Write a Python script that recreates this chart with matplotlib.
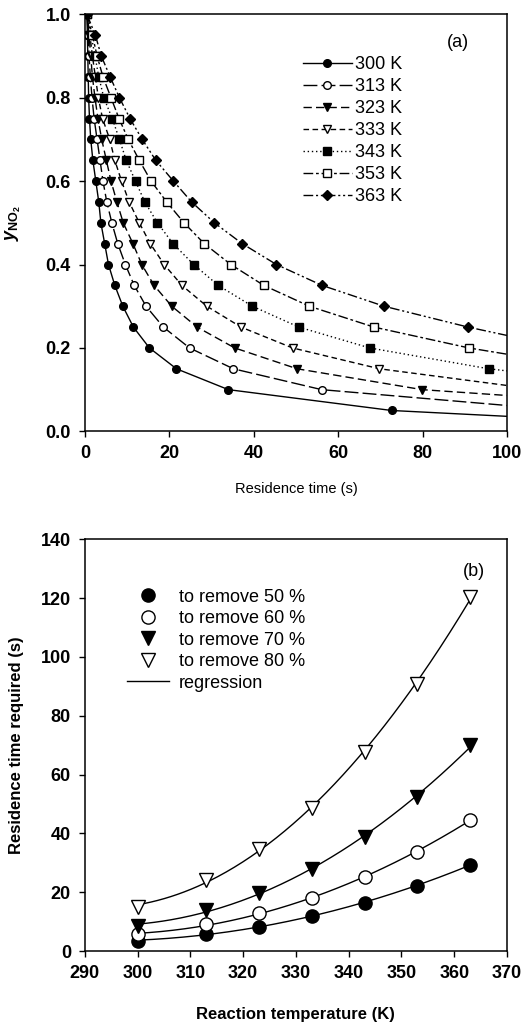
import numpy as np
import matplotlib
matplotlib.use("Agg")
import matplotlib.pyplot as plt

plt.rcParams['font.family'] = ['Liberation Sans', 'DejaVu Sans']
plt.rcParams['mathtext.fontset'] = 'custom'
plt.rcParams['mathtext.rm'] = 'Liberation Sans:bold'
plt.rcParams['mathtext.it'] = 'Liberation Sans:italic:bold'

# ---- panel (a): NO2 fraction vs residence time ----
temps_a = ['300 K', '313 K', '323 K', '333 K', '343 K', '353 K', '363 K']
y_levels = [1.0, 0.95, 0.9, 0.85, 0.8, 0.75, 0.7, 0.65, 0.6, 0.55, 0.5,
            0.45, 0.4, 0.35, 0.3, 0.25, 0.2, 0.15, 0.1, 0.05]

t_300 = [0.5, 0.6, 0.7, 0.8, 0.9, 1.1, 1.4, 1.9, 2.6, 3.3, 3.8, 4.7, 5.6, 7.1, 9.0, 11.5, 15.3, 21.7, 34.0, 72.7]
t_313 = [0.5, 0.8, 1.0, 1.3, 1.7, 2.2, 2.9, 3.6, 4.3, 5.2, 6.4, 7.8, 9.6, 11.7, 14.5, 18.6, 24.8, 35.2, 56.1]
t_323 = [0.5, 1.0, 1.4, 1.8, 2.4, 3.1, 4.0, 5.1, 6.2, 7.6, 9.1, 11.4, 13.5, 16.4, 20.6, 26.6, 35.5, 50.3, 79.9]
t_333 = [0.5, 1.2, 1.8, 2.5, 3.2, 4.2, 5.9, 7.1, 8.7, 10.5, 12.9, 15.5, 18.8, 23.0, 28.9, 37.0, 49.2, 69.8]
t_343 = [0.5, 1.5, 2.4, 3.3, 4.5, 6.5, 8.2, 9.8, 12.0, 14.2, 17.2, 20.9, 25.8, 31.6, 39.7, 50.7, 67.5, 95.7]
t_353 = [0.5, 1.8, 2.9, 4.3, 6.2, 8.1, 10.3, 12.9, 15.7, 19.4, 23.5, 28.3, 34.6, 42.4, 53.2, 68.5, 91.0]
t_363 = [0.5, 2.5, 3.9, 6.0, 8.2, 10.7, 13.6, 16.8, 21.0, 25.3, 30.7, 37.3, 45.4, 56.2, 70.9, 90.8]
# fitted curve value at t = 100 s
y_end = [0.036, 0.062, 0.086, 0.11, 0.145, 0.185, 0.23]

times_a = [t_300, t_313, t_323, t_333, t_343, t_353, t_363]
markers_a = ['o', 'o', 'v', 'v', 's', 's', 'D']
filled_a = [True, False, True, False, True, False, True]
styles_a = ['-', (0, (10, 3)), (0, (6, 3)), (0, (4, 2.5)), (0, (1, 2)),
            (0, (7, 2, 2, 2)), (0, (7, 2, 1.5, 2, 1.5, 2))]

# ---- panel (b): residence time required vs temperature ----
temp_b = [300, 313, 323, 333, 343, 353, 363]
rem_50 = [3.5, 5.8, 8.3, 11.9, 16.4, 22.1, 29.4]
rem_60 = [5.7, 9.1, 12.9, 18.0, 25.0, 33.7, 44.7]
rem_70 = [8.6, 14.0, 19.8, 28.0, 38.7, 52.3, 69.9]
rem_80 = [15.0, 24.2, 34.8, 48.7, 67.6, 90.8, 120.3]
labels_b = ['to remove 50 %', 'to remove 60 %', 'to remove 70 %', 'to remove 80 %']

fig = plt.figure(figsize=(5.27, 10.27), dpi=100)

ax1 = fig.add_axes([0.161, 0.580, 0.801, 0.406])
for i in range(len(temps_a)):
    tt = times_a[i]
    yy = y_levels[:len(tt)]
    ms = 5.5 if markers_a[i] != 'D' else 5
    fc = 'black' if filled_a[i] else 'white'
    ax1.plot(tt + [100], yy + [y_end[i]], color='black', lw=1.0, ls=styles_a[i])
    ax1.plot(tt, yy, ls='none', marker=markers_a[i], ms=ms, mfc=fc, mec='black', mew=1.0)
    # legend proxy
    ax1.plot([], [], color='black', lw=1.0, ls=styles_a[i], marker=markers_a[i],
             ms=ms, mfc=fc, mec='black', mew=1.0, label=temps_a[i])

ax1.set_xlim(0, 100)
ax1.set_ylim(0, 1.0)
ax1.set_xticks([0, 20, 40, 60, 80, 100])
ax1.set_yticks([0.0, 0.2, 0.4, 0.6, 0.8, 1.0])
ax1.yaxis.set_major_formatter(matplotlib.ticker.FormatStrFormatter('%.1f'))
ax1.set_xlabel('Residence time (s)', fontsize=10.5, labelpad=14)
ax1.set_ylabel(r'$y_{\mathrm{NO_2}}$', fontsize=13, labelpad=16)
ax1.text(88.4, 0.933, '(a)', fontsize=13, ha='center', va='center')
ax1.legend(loc='upper left', bbox_to_anchor=(0.517, 0.900), frameon=False, fontsize=13,
           handlelength=2.7, handletextpad=0.2, labelspacing=0.28, borderaxespad=0,
           borderpad=0)

ax2 = fig.add_axes([0.161, 0.074, 0.801, 0.401])
series_b = [rem_50, rem_60, rem_70, rem_80]
markers_b = ['o', 'o', 'v', 'v']
filled_b = [True, False, True, False]
tfine = np.linspace(temp_b[0], temp_b[-1], 200)
for i in range(4):
    coef = np.polyfit(temp_b, series_b[i], 2)
    ax2.plot(tfine, np.polyval(coef, tfine), color='black', lw=1.0)
    ax2.plot(temp_b, series_b[i], ls='none', marker=markers_b[i], ms=9.5,
             mfc='black' if filled_b[i] else 'white', mec='black', mew=1.0,
             label=labels_b[i])
ax2.plot([], [], color='black', lw=1.0, label='regression')

ax2.set_xlim(290, 370)
ax2.set_ylim(0, 140)
ax2.set_xticks(range(290, 371, 10))
ax2.set_yticks(range(0, 141, 20))
ax2.set_xlabel('Reaction temperature (K)', fontsize=12, fontweight='bold', labelpad=18)
ax2.set_ylabel('Residence time required (s)', fontsize=12, fontweight='bold', labelpad=12)
ax2.text(363.8, 129, '(b)', fontsize=13, ha='center', va='center')
ax2.legend(loc='upper left', bbox_to_anchor=(0.100, 0.880), frameon=False, fontsize=13,
           handlelength=2.3, handletextpad=0.55, labelspacing=0.25, borderaxespad=0,
           borderpad=0)

for ax in (ax1, ax2):
    ax.tick_params(direction='out', length=4, width=1, top=False, right=False,
                   labelsize=13, pad=6)
    for lab in ax.get_xticklabels() + ax.get_yticklabels():
        lab.set_fontweight('bold')
    for sp in ax.spines.values():
        sp.set_linewidth(1.1)

fig.savefig('out.png', dpi=100)
